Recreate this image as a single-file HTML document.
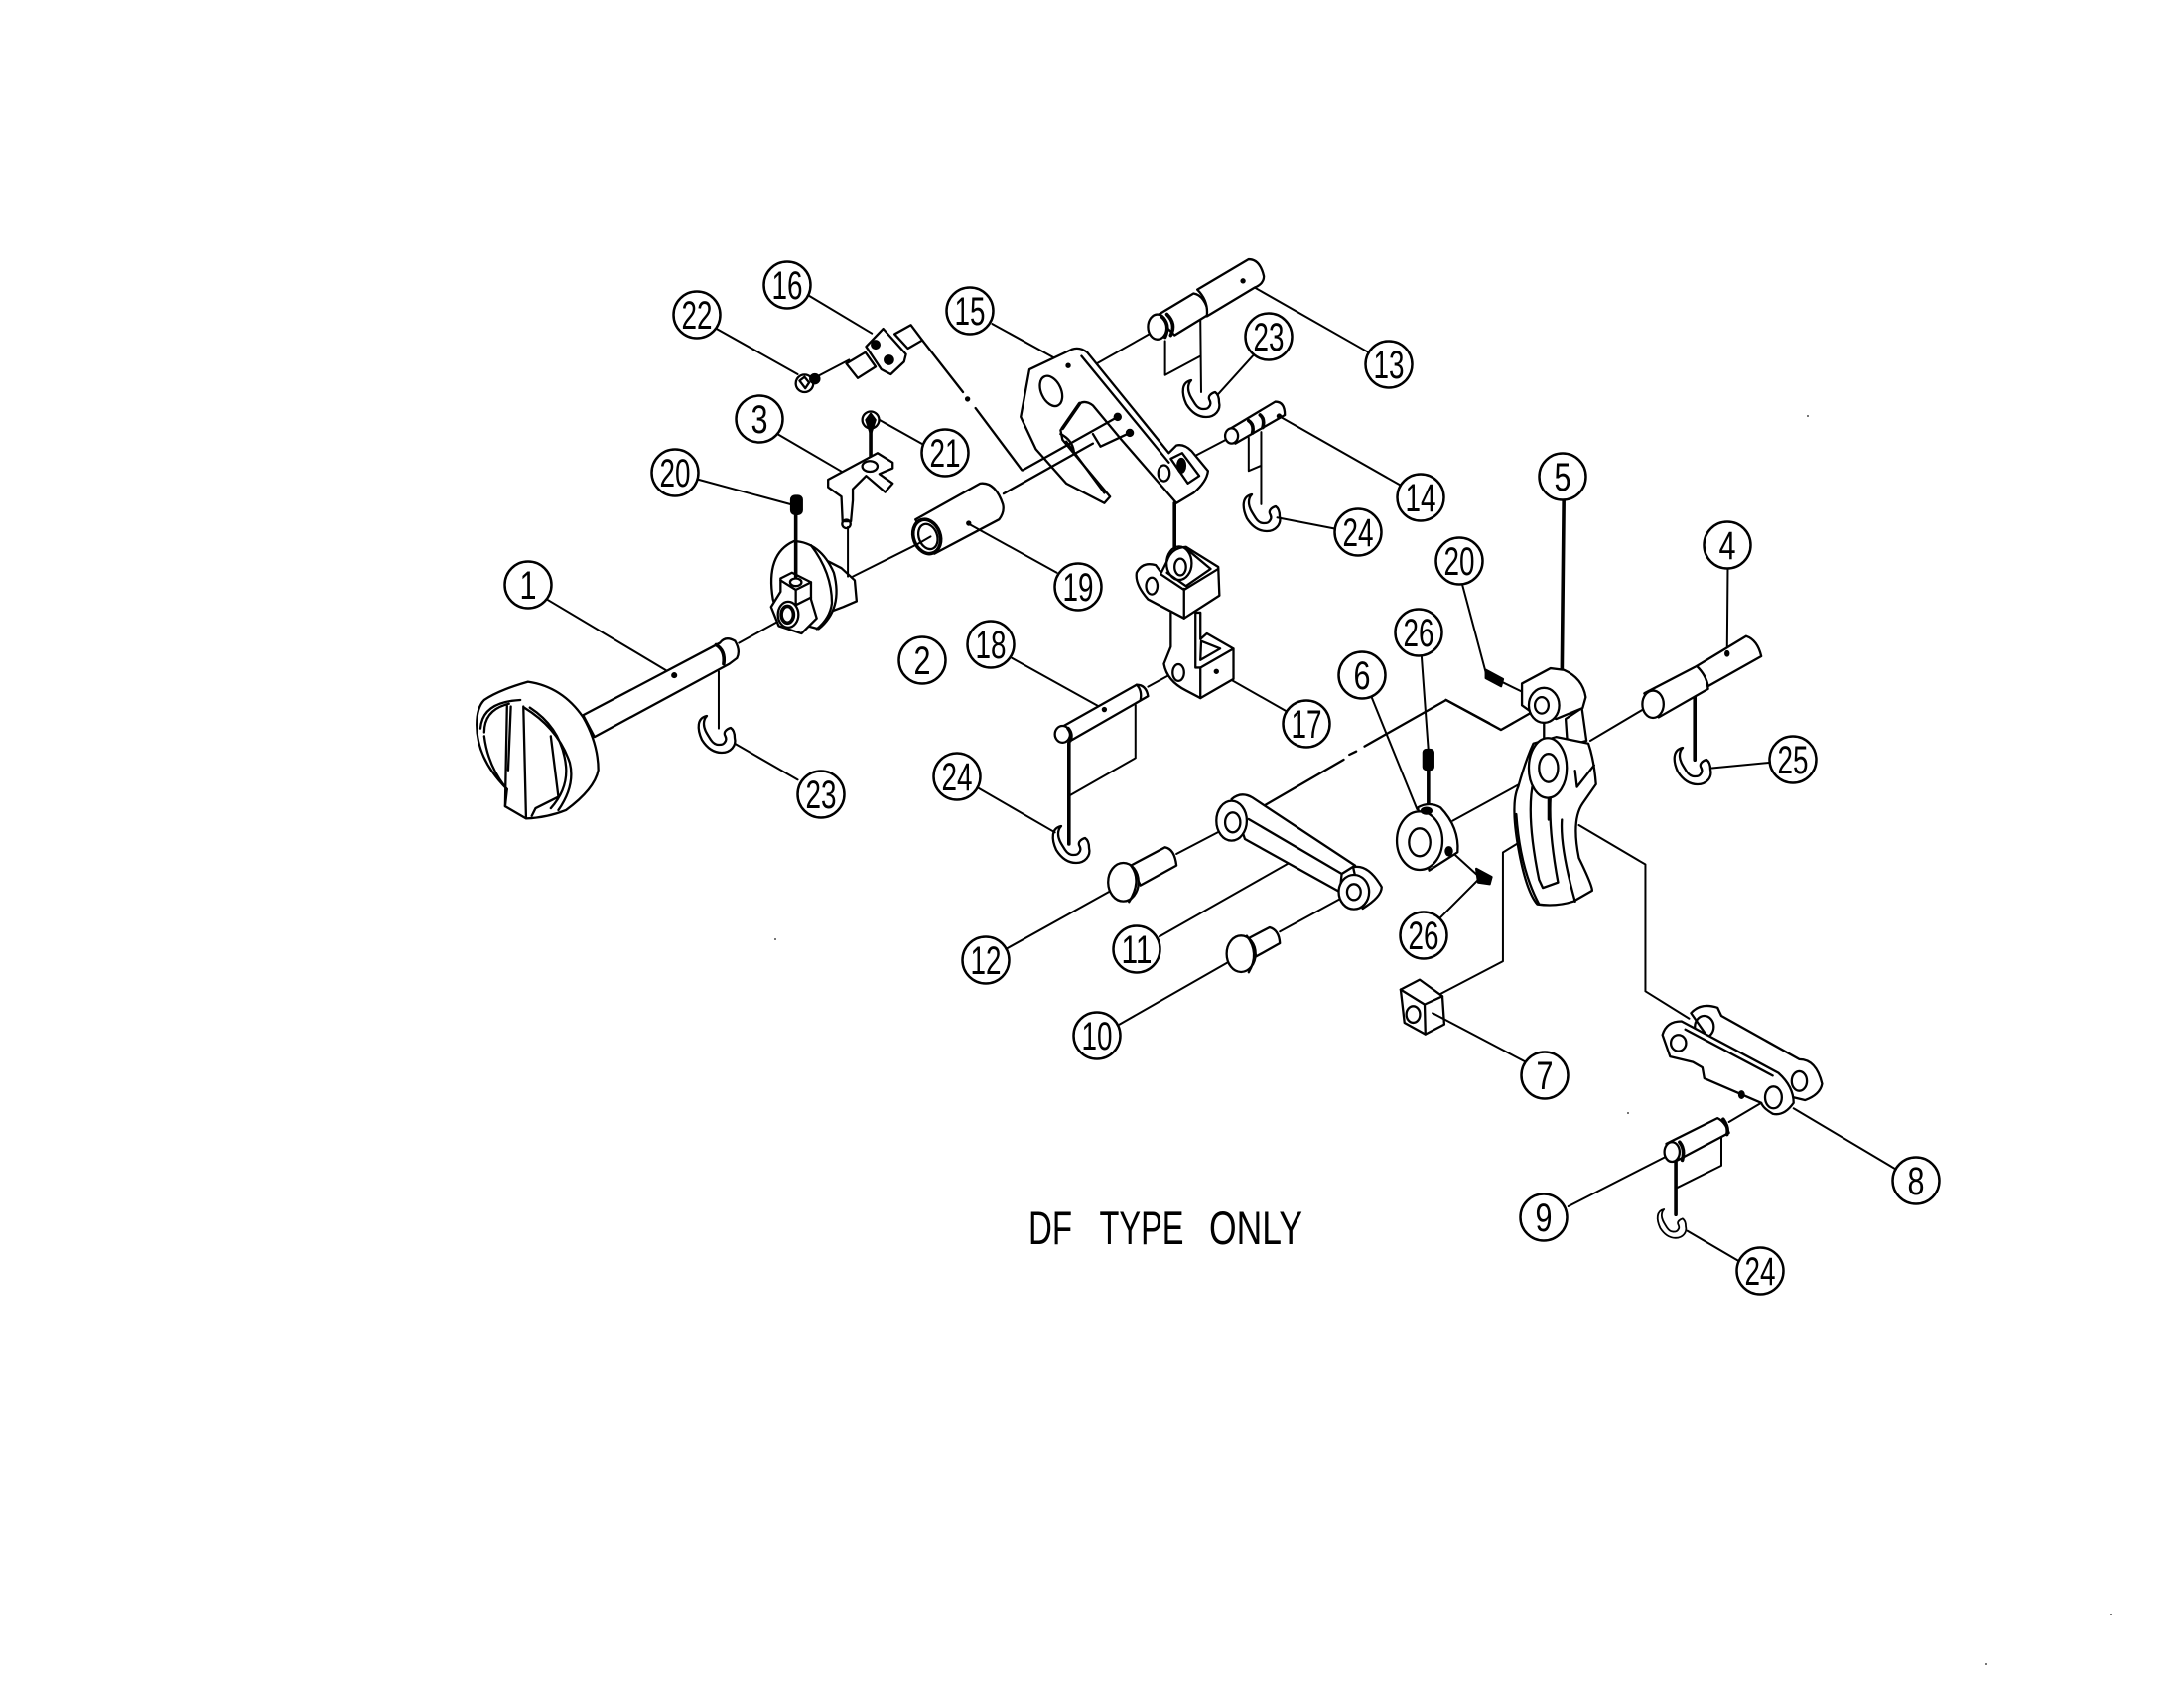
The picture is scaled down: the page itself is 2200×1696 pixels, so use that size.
<!DOCTYPE html>
<html><head><meta charset="utf-8"><style>
html,body{margin:0;padding:0;background:#fff}
svg{display:block}
.p *{vector-effect:non-scaling-stroke}
.p{fill:none;stroke:#000;stroke-width:2.3;stroke-linejoin:round;stroke-linecap:round}
.w{fill:#fff}
.k{fill:#000}
.t{stroke-width:3.6}
.l{stroke-width:2}
text{font-family:"Liberation Sans",sans-serif;font-size:40px;fill:#000;text-anchor:middle}
.c circle{fill:#fff;stroke:#000;stroke-width:2.5}
</style></head><body>
<svg width="2200" height="1696" viewBox="0 0 2200 1696" xmlns="http://www.w3.org/2000/svg">
<defs><path id="clip" d="M-10-18C-20-16-20-5-15 6C-10 14-3 19 5 19C14 19 20 12 18 4C18-1 17-4 14-6C10-5 7-2 8 1C9 3 10 5 9 7C7 11 5 11 2 11C-1 11-4 9-6 6C-9 1-13-4-13-10C-13-13-12-16-10-18Z"/></defs>

<!-- region 1 -->
<g class="p" transform="translate(440 240) scale(.3827)">
<path class="l" d="M290 950L625 1150M978 150L1145 250M735 237L950 358M1005 362L1085 320M897 515L1085 625M1165 478L1285 545M690 635L930 700M795 1065L895 1010M742 1140V1290M1095 890L1265 805M785 1330L950 1425"/>
<path d="M1278 268L1385 405M1418 447L1540 610"/><circle class="k" cx="1397" cy="423" r="4"/>
<path class="w" d="M385 1255L745 1065Q760 1045 785 1060Q800 1085 790 1105L770 1120L415 1312Z"/>
<path class="t" d="M735 1070Q760 1085 755 1120"/><circle class="k" cx="625" cy="1150" r="5"/>
<path class="w" d="M125 1215Q160 1190 240 1167Q330 1180 385 1260Q425 1330 425 1400Q415 1450 340 1505Q290 1525 235 1527L180 1495L185 1450Q105 1370 105 1280Q105 1235 125 1215Z"/>
<path d="M115 1290Q120 1220 220 1215M125 1300Q125 1240 190 1225M125 1310Q135 1390 185 1450M185 1230L180 1495M195 1232L188 1400M228 1232L235 1525M230 1235Q320 1290 350 1380Q365 1440 320 1505M245 1235Q330 1290 340 1390Q345 1450 300 1500M300 1310L320 1470L260 1500L250 1520"/>
<path class="w" d="M1030 850L1065 868L1100 900L1105 955L1070 970L1030 985Z"/>
<path class="w" d="M885 950Q865 830 940 797Q1010 800 1045 880Q1070 975 1005 1028L900 1000Z"/>
<path d="M985 808Q1040 880 1040 960Q1035 1000 1000 1028"/>
<path class="w" d="M905 895L935 880L985 905V950L1000 1000L960 1040L900 1020L880 970L905 930Z"/>
<path d="M905 900L945 925L985 905M945 925V965L985 945"/>
<ellipse cx="945" cy="905" rx="15" ry="10"/><ellipse cx="925" cy="990" rx="27" ry="34"/><ellipse class="t" cx="923" cy="990" rx="16" ry="22"/>
<path class="t" d="M945 725V890M1142 500V580"/>
<rect class="k" x="933" y="678" width="28" height="48" rx="10"/>
<path class="l" d="M1082 760V890"/>
<path class="w" d="M1030 635L1160 565L1200 590V605L1165 620L1200 645L1180 668L1130 625L1095 660V690L1090 745H1068L1065 680L1030 655Z"/>
<ellipse cx="1140" cy="600" rx="20" ry="14"/><circle cx="1078" cy="752" r="11"/>
<circle cx="1142" cy="478" r="22" class="w"/><path class="k" d="M1130 478L1142 462L1154 478L1142 515Z"/>
<path class="w" d="M1205 252L1248 228L1278 268L1240 290ZM1078 330L1128 300L1155 338L1108 368Z"/>
<path class="w" d="M1130 285L1175 238L1235 305L1230 325L1195 358L1170 345Z"/>
<circle class="k" cx="1155" cy="280" r="10"/><circle class="k" cx="1190" cy="320" r="11"/>
<circle class="w" cx="968" cy="382" r="23"/><circle class="k" cx="995" cy="370" r="12"/><path d="M955 375L968 365L980 380L970 395Z"/>
<!-- tube 19 -->
<path class="w" d="M1260 740L1430 645Q1470 640 1490 700Q1495 720 1480 740L1310 830Z"/>
<ellipse class="w t" cx="1290" cy="785" rx="35" ry="46" transform="rotate(-20 1290 785)"/>
<ellipse cx="1293" cy="785" rx="24" ry="34" transform="rotate(-20 1293 785)"/>
<path class="l" d="M1265 805L1300 785"/>
<circle class="k" cx="1400" cy="750" r="4"/>
</g>

<!-- region 2 -->
<g class="p" transform="translate(900 240) scale(.3827)">
<path class="l" d="M260 225L460 335M535 330L680 248M920 112L1250 300M950 305L855 410M1015 468L1335 650M795 572L875 530M1010 735L1165 765M195 750L430 880M850 1140L1035 1245M312 1105L555 1240M670 1180L725 1150"/>
<path class="t" d="M740 697V815"/>
<path class="l" d="M808 215L810 405M715 270V360L808 310M968 510V700M935 525V612L968 598"/>
<path class="w" d="M358 345L470 292Q490 285 510 300L725 565L745 545Q765 540 785 560L828 612Q825 640 790 670L745 697L600 530L525 440Q505 425 490 435L440 505L445 530L570 680L555 697L455 645L375 555L335 470Z"/>
<path d="M495 310L725 590M455 535L555 670M440 515Q470 530 475 560"/>
<path class="t" d="M490 435L445 500"/>
<ellipse cx="415" cy="402" rx="26" ry="42" transform="rotate(-25 415 402)"/><ellipse cx="712" cy="618" rx="15" ry="21"/>
<path d="M340 610L590 470M525 515L545 548L622 512M290 672L525 540"/>
<circle class="k" cx="590" cy="470" r="8"/><circle class="k" cx="622" cy="512" r="8"/>
<path class="w" d="M730 580L760 565L805 625L775 645Z"/><ellipse class="k" cx="758" cy="598" rx="10" ry="18"/>
<circle class="k" cx="460" cy="335" r="4"/>
<path class="w" d="M690 205L790 145Q820 150 830 200L740 255Z"/><ellipse class="w" cx="695" cy="233" rx="25" ry="33"/>
<path class="t" d="M720 200Q745 225 730 255M705 205Q730 225 715 260"/>
<path class="w" d="M800 135L935 55Q965 55 975 100Q975 120 950 130L825 205Q830 165 800 135Z"/>
<path class="w" d="M880 505L1005 430Q1030 430 1030 465L900 540Z"/><ellipse class="w" cx="890" cy="520" rx="17" ry="20"/>
<path class="t" d="M935 480Q950 490 945 512M965 465Q978 475 972 498"/>
<path class="w" d="M720 850Q730 815 770 812L855 865L858 940L765 1000L670 950Q635 910 640 880Q655 850 690 860L705 880Z" />
<path d="M705 885L765 925L855 870M765 922V1000M720 880L770 915L835 870L775 820"/>
<ellipse cx="680" cy="915" rx="15" ry="22"/><ellipse cx="752" cy="855" rx="33" ry="44"/><ellipse cx="755" cy="865" rx="15" ry="22"/>
<path class="w" d="M730 985V1075L712 1120Q720 1165 770 1190L808 1210L895 1160V1080L825 1040L808 1055V985H795V1130H808L895 1080"/>
<path d="M808 1130V1210M808 1110L810 1060L860 1080Z"/><ellipse cx="750" cy="1143" rx="15" ry="22"/>
<circle class="k" cx="850" cy="1140" r="4"/>
<path class="w" d="M445 1285L640 1175Q665 1175 670 1205L470 1320Z"/><ellipse class="w" cx="445" cy="1305" rx="20" ry="22"/><path class="t" d="M460 1290Q472 1305 465 1322"/><path d="M640 1175Q655 1190 650 1215"/>
<circle class="k" cx="555" cy="1240" r="4"/>
<circle class="k" cx="920" cy="112" r="4"/><circle class="k" cx="1015" cy="468" r="4"/>
</g>

<!-- region 3 -->
<g class="p" transform="translate(900 620) scale(.3827 .3333)">
<path class="l" d="M637 270V430L462 545M225 522L425 655M745 720L870 645M300 1005L605 810M700 970L1060 735M1017 955L1185 850M595 1235L915 1025M1258 245L1378 585M1390 125L1408 410"/>
<path class="t" d="M462 385V690M1408 460V575"/>
<path d="M960 585L1185 435M1200 420L1218 410M1240 395L1455 255L1568 325"/>
<path class="w" d="M890 555Q915 530 945 550L1215 755L1180 780L1175 835L925 675Z"/>
<path d="M935 615L1180 780"/>
<ellipse class="w" cx="890" cy="620" rx="40" ry="60"/><ellipse cx="893" cy="625" rx="20" ry="30"/>
<path class="w" d="M1210 760Q1250 750 1285 820Q1285 850 1235 885Z"/><ellipse class="w" cx="1212" cy="835" rx="40" ry="52"/><ellipse cx="1212" cy="835" rx="18" ry="24"/>
<path class="w" d="M625 755L715 700Q740 705 745 755L650 815Z"/><ellipse class="w" cx="605" cy="805" rx="40" ry="58"/><path d="M625 755Q655 800 620 865"/>
<path class="w" d="M935 975L990 942Q1015 950 1017 990L955 1030Z"/><ellipse class="w" cx="915" cy="1022" rx="38" ry="55"/><path d="M930 968Q965 1020 935 1078"/>
<path class="w" d="M1380 580Q1410 560 1440 580Q1490 640 1485 715L1410 770Z"/>
<ellipse class="w" cx="1385" cy="680" rx="60" ry="88"/><ellipse cx="1385" cy="685" rx="28" ry="42"/>
<ellipse class="k" cx="1403" cy="590" rx="13" ry="9"/><ellipse class="k" cx="1462" cy="712" rx="8" ry="12"/>
<rect class="k" x="1395" y="405" width="26" height="60" rx="8"/>
<path class="w" d="M1335 1130L1385 1100L1445 1150L1450 1235L1400 1265L1345 1230Z"/>
<path d="M1335 1130L1398 1175L1445 1150M1398 1175L1400 1265"/><ellipse cx="1368" cy="1205" rx="18" ry="25"/>
</g>

<!-- region 4 -->
<g class="p" transform="translate(1380 480) scale(.3827 .5485)">
<path class="l" d="M165 985L410 1075M185 950L350 890V690L455 645M218 632L445 545M225 695L280 730M185 810L285 740M550 640L725 712V945L840 995M580 485L725 425M942 165L940 325M900 535L1050 525M1115 1160L1380 1270M945 1185L1030 1150M925 1210V1265L810 1305M522 1340L775 1250M835 1385L970 1440M242 195L305 360M350 378L400 395"/>
<path class="t" d="M510 40L505 370"/>
<path class="t" d="M855 405V520M805 1255V1355"/>
<path d="M200 410L345 465L445 425"/>
<path class="k" d="M280 720L320 735L315 748L285 745Z"/>
<path class="k" d="M305 355L350 372L345 385L305 370Z"/>
<path class="w" d="M458 450V490M515 445L520 495L570 485L558 425Z"/>
<path class="w" d="M430 490L490 478L575 490Q590 520 595 565L560 600Q530 630 550 700Q585 750 585 760L535 780Q490 790 440 785Q410 760 390 680Q370 600 390 570Q410 520 430 490Z"/>
<path d="M430 560Q410 620 445 740L455 755L495 745Q470 650 475 590M505 630Q500 680 540 780M540 540L545 570L590 530M470 590L470 630M385 620Q395 720 445 785"/>
<path class="w" d="M400 380L475 352L510 355Q560 370 568 405L560 425L490 445L420 430L400 420Z"/>
<ellipse class="w" cx="458" cy="420" rx="40" ry="32"/><ellipse cx="452" cy="420" rx="18" ry="15"/>
<ellipse class="w" cx="468" cy="535" rx="50" ry="55"/><ellipse cx="470" cy="535" rx="25" ry="26"/>
<path class="w" d="M722 398L860 348Q885 360 890 390L760 442Z"/><ellipse class="w" cx="745" cy="418" rx="28" ry="25"/>
<path class="w" d="M860 348L990 293Q1020 300 1030 330L890 385Q885 365 860 348Z"/>
<circle class="k" cx="940" cy="325" r="4"/>
<path class="w" d="M845 985Q870 965 915 975L925 990L1130 1070Q1175 1070 1190 1115Q1185 1135 1145 1145L1115 1140L900 1040Z"/>
<ellipse cx="880" cy="1010" rx="25" ry="20"/><ellipse cx="1130" cy="1110" rx="20" ry="18"/>
<path class="w" d="M770 1025Q780 1000 820 1000L1075 1095Q1115 1120 1115 1150Q1090 1175 1060 1170Q1035 1160 1030 1150L980 1135L880 1105L875 1085L850 1075L790 1065Z"/>
<ellipse cx="812" cy="1040" rx="20" ry="15"/><ellipse cx="1062" cy="1140" rx="22" ry="20"/>
<path d="M830 1015L1060 1100"/>
<circle class="k" cx="978" cy="1135" r="6"/>
<path class="w" d="M780 1225L915 1178Q935 1185 945 1205L810 1255Z"/><ellipse class="w" cx="795" cy="1240" rx="20" ry="18"/>
<path class="t" d="M815 1222Q830 1235 822 1255M930 1180Q945 1195 940 1208"/>
</g>

<!-- clips -->
<g class="p">
<use href="#clip" x="722" y="739"/>
<use href="#clip" x="1210" y="401"/>
<use href="#clip" x="1271" y="516"/>
<use href="#clip" x="1079" y="850"/>
<use href="#clip" x="1705" y="771"/>
<use href="#clip" transform="translate(1684 1232) scale(.78)"/>
</g>

<!-- balloons -->
<g class="c">
<circle cx="793" cy="287" r="23.5"/><text x="793" y="301" textLength="31" lengthAdjust="spacingAndGlyphs">16</text>
<circle cx="702" cy="317" r="23.5"/><text x="702" y="331" textLength="31" lengthAdjust="spacingAndGlyphs">22</text>
<circle cx="977" cy="313" r="23.5"/><text x="977" y="327" textLength="31" lengthAdjust="spacingAndGlyphs">15</text>
<circle cx="765" cy="422" r="23.5"/><text x="765" y="436" textLength="17" lengthAdjust="spacingAndGlyphs">3</text>
<circle cx="952" cy="456" r="23.5"/><text x="952" y="470" textLength="31" lengthAdjust="spacingAndGlyphs">21</text>
<circle cx="680" cy="476" r="23.5"/><text x="680" y="490" textLength="31" lengthAdjust="spacingAndGlyphs">20</text>
<circle cx="532" cy="589" r="23.5"/><text x="532" y="603" textLength="17" lengthAdjust="spacingAndGlyphs">1</text>
<circle cx="929" cy="665" r="23.5"/><text x="929" y="679" textLength="17" lengthAdjust="spacingAndGlyphs">2</text>
<circle cx="998" cy="649" r="23.5"/><text x="998" y="663" textLength="31" lengthAdjust="spacingAndGlyphs">18</text>
<circle cx="827" cy="800" r="23.5"/><text x="827" y="814" textLength="31" lengthAdjust="spacingAndGlyphs">23</text>
<circle cx="964" cy="782" r="23.5"/><text x="964" y="796" textLength="31" lengthAdjust="spacingAndGlyphs">24</text>
<circle cx="1086" cy="591" r="23.5"/><text x="1086" y="605" textLength="31" lengthAdjust="spacingAndGlyphs">19</text>
<circle cx="1399" cy="367" r="23.5"/><text x="1399" y="381" textLength="31" lengthAdjust="spacingAndGlyphs">13</text>
<circle cx="1278" cy="339" r="23.5"/><text x="1278" y="353" textLength="31" lengthAdjust="spacingAndGlyphs">23</text>
<circle cx="1431" cy="501" r="23.5"/><text x="1431" y="515" textLength="31" lengthAdjust="spacingAndGlyphs">14</text>
<circle cx="1368" cy="536" r="23.5"/><text x="1368" y="550" textLength="31" lengthAdjust="spacingAndGlyphs">24</text>
<circle cx="1470" cy="565" r="23.5"/><text x="1470" y="579" textLength="31" lengthAdjust="spacingAndGlyphs">20</text>
<circle cx="1429" cy="637" r="23.5"/><text x="1429" y="651" textLength="31" lengthAdjust="spacingAndGlyphs">26</text>
<circle cx="1372" cy="680" r="23.5"/><text x="1372" y="694" textLength="17" lengthAdjust="spacingAndGlyphs">6</text>
<circle cx="1316" cy="729" r="23.5"/><text x="1316" y="743" textLength="31" lengthAdjust="spacingAndGlyphs">17</text>
<circle cx="993" cy="967" r="23.5"/><text x="993" y="981" textLength="31" lengthAdjust="spacingAndGlyphs">12</text>
<circle cx="1145" cy="956" r="23.5"/><text x="1145" y="970" textLength="31" lengthAdjust="spacingAndGlyphs">11</text>
<circle cx="1105" cy="1043" r="23.5"/><text x="1105" y="1057" textLength="31" lengthAdjust="spacingAndGlyphs">10</text>
<circle cx="1434" cy="942" r="23.5"/><text x="1434" y="956" textLength="31" lengthAdjust="spacingAndGlyphs">26</text>
<circle cx="1574" cy="480" r="23.5"/><text x="1574" y="494" textLength="17" lengthAdjust="spacingAndGlyphs">5</text>
<circle cx="1740" cy="549" r="23.5"/><text x="1740" y="563" textLength="17" lengthAdjust="spacingAndGlyphs">4</text>
<circle cx="1806" cy="765" r="23.5"/><text x="1806" y="779" textLength="31" lengthAdjust="spacingAndGlyphs">25</text>
<circle cx="1556" cy="1083" r="23.5"/><text x="1556" y="1097" textLength="17" lengthAdjust="spacingAndGlyphs">7</text>
<circle cx="1930" cy="1189" r="23.5"/><text x="1930" y="1203" textLength="17" lengthAdjust="spacingAndGlyphs">8</text>
<circle cx="1555" cy="1226" r="23.5"/><text x="1555" y="1240" textLength="17" lengthAdjust="spacingAndGlyphs">9</text>
<circle cx="1773" cy="1280" r="23.5"/><text x="1773" y="1294" textLength="31" lengthAdjust="spacingAndGlyphs">24</text>
</g>

<g style="font-size:47px">
<text x="1058" y="1253" style="font-size:47px" textLength="44" lengthAdjust="spacingAndGlyphs">DF</text>
<text x="1150" y="1253" style="font-size:47px" textLength="85" lengthAdjust="spacingAndGlyphs">TYPE</text>
<text x="1265" y="1253" style="font-size:47px" textLength="94" lengthAdjust="spacingAndGlyphs">ONLY</text>
</g>

<g fill="#777">
<rect x="2125" y="1625" width="2" height="2"/><rect x="2000" y="1675" width="2" height="2"/><rect x="1820" y="418" width="2" height="2"/><rect x="780" y="945" width="2" height="2"/><rect x="1639" y="1120" width="2" height="2"/>
</g>
</svg>
</body></html>
